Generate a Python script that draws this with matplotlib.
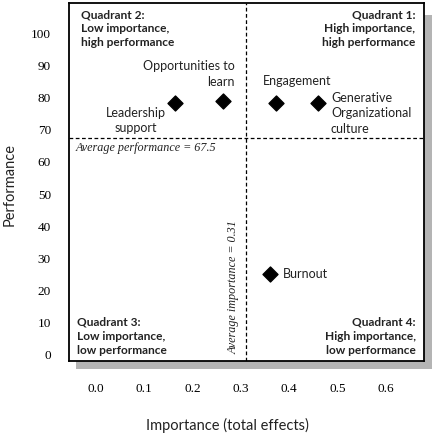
import matplotlib
matplotlib.use('Agg')
import matplotlib.pyplot as plt
from matplotlib.patches import Rectangle

# Fonts
sans = ['Lato', 'DejaVu Sans']
serif = ['Liberation Serif', 'DejaVu Serif']

# Data
factors = ['Leadership\nsupport', 'Opportunities to\nlearn', 'Engagement',
           'Generative\nOrganizational\nculture', 'Burnout']
importance = [0.163, 0.262, 0.372, 0.459, 0.360]
performance = [78.4, 79.0, 78.4, 78.4, 25.2]
avg_importance = 0.31
avg_performance = 67.5
x_ticks = [0.0, 0.1, 0.2, 0.3, 0.4, 0.5, 0.6]
y_ticks = [0, 10, 20, 30, 40, 50, 60, 70, 80, 90, 100]

# label placement: (dx, dy) in points, ha, va
label_style = [
    ((-28, -3), 'center', 'top'),
    ((9, 9.5), 'right', 'bottom'),
    ((-9, 15.5), 'left', 'center'),
    ((9.5, 8), 'left', 'top'),
    ((9.5, 0), 'left', 'center'),
]

fig = plt.figure(figsize=(4.37, 4.36), dpi=100)
ax = fig.add_axes([69 / 437, 1 - 361 / 436, 355 / 437, 358 / 436])

# drop shadow behind the box
shadow = Rectangle((76 / 437, 1 - 369 / 436), 356 / 437, 354 / 436,
                   transform=fig.transFigure, facecolor='#b4b4b4',
                   edgecolor='none', zorder=0)
fig.patches.append(shadow)
ax.set_zorder(1)
ax.set_facecolor('white')

ax.set_xlim(-0.0559, 0.679)
ax.set_ylim(-1.87, 109.4)

ax.scatter(importance, performance, marker='D', s=58, color='black', zorder=3)

for name, x, y, (off, ha, va) in zip(factors, importance, performance, label_style):
    ax.annotate(name, (x, y), xytext=off, textcoords='offset points',
                ha=ha, va=va, fontsize=9, family=sans, linespacing=1.35,
                color='#222222')

# average lines
ax.axvline(avg_importance, color='black', lw=0.9, ls=(0, (3, 2)), zorder=2)
ax.axhline(avg_performance, color='black', lw=0.9, ls=(0, (3, 2)), zorder=2)

ax.annotate(f'Average performance = {avg_performance}', (0, avg_performance),
            xycoords=('axes fraction', 'data'), xytext=(5, -7.5),
            textcoords='offset points', ha='left', va='center',
            fontsize=8.7, family=serif, style='italic', color='#222222')
ax.annotate(f'Average importance = {avg_importance}', (avg_importance, 0),
            xytext=(-4.5, 0.5), textcoords='offset points', rotation=90,
            ha='right', va='bottom', fontsize=8.7, family=serif,
            style='italic', color='#222222')

# quadrant labels
qkw = dict(transform=ax.transAxes, fontsize=8.6, family=sans, weight='bold',
           linespacing=1.32, color='#222222')
ax.text(0.034, 0.982, 'Quadrant 2:\nLow importance,\nhigh performance',
        ha='left', va='top', **qkw)
ax.text(0.975, 0.982, 'Quadrant 1:\nHigh importance,\nhigh performance',
        ha='right', va='top', multialignment='right', **qkw)
ax.text(0.023, 0.015, 'Quadrant 3:\nLow importance,\nlow performance',
        ha='left', va='bottom', **qkw)
ax.text(0.977, 0.015, 'Quadrant 4:\nHigh importance,\nlow performance',
        ha='right', va='bottom', multialignment='right', **qkw)

# ticks and labels
ax.set_xticks(x_ticks)
ax.set_xticklabels([f'{t:.1f}' for t in x_ticks], family=serif, fontsize=9.5)
ax.set_yticks(y_ticks)
ax.set_yticklabels([str(t) for t in y_ticks], family=serif, fontsize=9.5)
ax.tick_params(axis='x', length=0, pad=16)
ax.tick_params(axis='y', length=0, pad=13)
for sp in ax.spines.values():
    sp.set_linewidth(1.3)
    sp.set_color('black')

ax.set_xlabel('Importance (total effects)', family=sans, fontsize=10.5,
              color='#222222', va='center')
ax.set_ylabel('Performance', family=sans, fontsize=10.5, color='#222222',
              va='center')
ax.xaxis.set_label_coords((227 - 69) / 355, (361 - 425) / 358)
ax.yaxis.set_label_coords((10 - 69) / 355, (361 - 185) / 358)

fig.savefig('out.png', dpi=100)
